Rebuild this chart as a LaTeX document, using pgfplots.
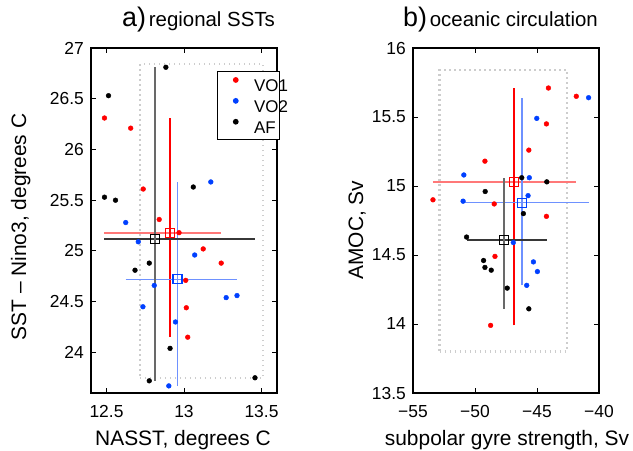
\documentclass[border=0pt]{standalone}
\usepackage{pgfplots}
\pgfplotsset{compat=1.18}
\usepackage{fontspec}
\setmainfont{Liberation Sans}
\definecolor{myred}{RGB}{255,0,0}
\definecolor{myblue}{RGB}{0,64,255}
\definecolor{lred}{RGB}{255,120,120}
\definecolor{lblue}{RGB}{110,145,255}
\definecolor{dgray}{RGB}{55,55,55}
\definecolor{mgray}{RGB}{105,105,105}
\definecolor{boxgray}{RGB}{205,205,205}
\pgfplotsset{
  panel/.style={
    scale only axis, width=186bp, height=345bp,
    axis line style={line width=1.1bp},
    tick style={line width=0.9bp, black},
    major tick length=5bp,
    tick align=inside,
    xtick pos=both, ytick pos=both,
    every tick label/.append style={font=\fontsize{17.5}{20}\selectfont, inner sep=1bp},
    xticklabel style={yshift=-11bp},
    yticklabel style={xshift=-6bp},
    /pgf/number format/assume math mode=true,
    clip=false,
  },
  errl/.style={line width=1.7bp, forget plot},
  sq/.style={only marks, mark=square, mark size=4.5bp, mark options={line width=1.1bp}, forget plot},
  dots/.style={only marks, mark=*, mark size=2.4bp, forget plot},
  dbox/.style={boxgray, line width=2.2bp, dash pattern=on 1.4bp off 3.6bp, forget plot},
}
\begin{document}
\begin{tikzpicture}
\useasboundingbox (0bp,0bp) rectangle (633bp,451bp);
% ---------------- panel a
\begin{axis}[panel, at={(91bp,58bp)}, anchor=south west,
  xmin=12.4, xmax=13.6, ymin=23.6, ymax=27,
  xtick={12.5,13,13.5}, xticklabels={12.5,13,13.5},
  ytick={24,24.5,25,25.5,26,26.5,27},
  yticklabels={24,24.5,25,25.5,26,26.5,27},
  legend image code/.code={\draw[#1] plot coordinates {(0bp,5.5bp)};},
  legend style={at={(axis description cs:0.677,0.933)}, anchor=north west, draw=black, line width=0.9bp,
    fill=white, inner xsep=16bp, inner ysep=6bp, row sep=7bp, column sep=16bp,
    nodes={inner sep=0bp, text height=12bp, text depth=0bp, font=\fontsize{17}{19}\selectfont}},
  legend cell align=left,
]
\addlegendimage{only marks, mark=*, mark size=2.4bp, myred}
\addlegendentry{\makebox[9bp][l]{VO1}}
\addlegendimage{only marks, mark=*, mark size=2.4bp, myblue}
\addlegendentry{\makebox[9bp][l]{VO2}}
\addlegendimage{only marks, mark=*, mark size=2.4bp, black}
\addlegendentry{\makebox[9bp][l]{AF}}
\addplot[dbox] coordinates {(12.716,23.75) (13.511,23.75) (13.511,26.84) (12.716,26.84) (12.716,23.75)};
% error lines
\addplot[errl, lred] coordinates {(12.487,25.18) (13.24,25.18)};
\addplot[errl, myred] coordinates {(12.908,24.15) (12.908,26.31)};
\addplot[errl, lblue] coordinates {(12.624,24.72) (13.342,24.72)};
\addplot[errl, lblue] coordinates {(12.958,23.67) (12.958,25.68)};
\addplot[errl, dgray] coordinates {(12.487,25.12) (13.458,25.12)};
\addplot[errl, mgray] coordinates {(12.812,23.72) (12.812,26.81)};
% means
\addplot[sq, myred] coordinates {(12.908,25.18)};
\addplot[sq, myblue] coordinates {(12.958,24.72)};
\addplot[sq, black] coordinates {(12.812,25.12)};
% dots
\addplot[dots, myred] coordinates {(12.487,26.31) (12.656,26.21) (12.737,25.61) (12.84,25.31) (12.968,25.18) (13.124,25.02) (13.24,24.88) (13.011,24.71) (13.015,24.44) (13.024,24.15)};
\addplot[dots, myblue] coordinates {(13.173,25.68) (12.624,25.28) (12.705,25.09) (13.069,24.96) (12.808,24.66) (13.272,24.54) (13.342,24.56) (12.735,24.45) (12.945,24.30) (12.902,23.67)};
\addplot[dots, black] coordinates {(12.513,26.53) (12.883,26.81) (13.06,25.63) (12.487,25.53) (12.558,25.50) (12.776,24.88) (12.684,24.81) (12.91,24.04) (12.776,23.72) (13.458,23.75)};
\end{axis}
% ---------------- panel b
\begin{axis}[panel, at={(413bp,58bp)}, anchor=south west,
  xmin=-55, xmax=-40, ymin=13.5, ymax=16,
  xtick={-55,-50,-45,-40}, xticklabels={−55,−50,−45,−40},
  ytick={13.5,14,14.5,15,15.5,16},
  yticklabels={13.5,14,14.5,15,15.5,16},
]
\addplot[dbox] coordinates {(-52.86,13.8) (-42.6,13.8) (-42.6,15.84) (-52.86,15.84) (-52.86,13.8)};
\addplot[errl, lred] coordinates {(-53.39,15.03) (-41.83,15.03)};
\addplot[errl, myred] coordinates {(-46.83,13.99) (-46.83,15.71)};
\addplot[errl, lblue] coordinates {(-50.96,14.88) (-40.84,14.88)};
\addplot[errl, lblue] coordinates {(-46.21,14.28) (-46.21,15.64)};
\addplot[errl, dgray] coordinates {(-50.68,14.61) (-44.21,14.61)};
\addplot[errl, mgray] coordinates {(-47.66,14.11) (-47.66,15.06)};
\addplot[sq, myred] coordinates {(-46.83,15.03)};
\addplot[sq, myblue] coordinates {(-46.21,14.88)};
\addplot[sq, black] coordinates {(-47.66,14.61)};
\addplot[dots, myred] coordinates {(-44.08,15.71) (-41.83,15.65) (-44.24,15.45) (-45.66,15.26) (-49.2,15.18) (-53.39,14.90) (-48.45,14.87) (-44.24,14.78) (-48.39,14.49) (-48.74,13.99)};
\addplot[dots, myblue] coordinates {(-40.84,15.64) (-45.02,15.49) (-50.9,15.08) (-45.62,15.06) (-50.96,14.89) (-45.72,14.93) (-46.91,14.59) (-45.29,14.45) (-44.97,14.38) (-45.83,14.28)};
\addplot[dots, black] coordinates {(-46.23,15.06) (-44.21,15.03) (-49.18,14.96) (-46.1,14.80) (-50.68,14.63) (-49.31,14.46) (-49.2,14.41) (-48.69,14.39) (-47.4,14.26) (-45.66,14.11)};
\end{axis}
% ---------------- texts
\node[anchor=base west, inner sep=0] at (122bp,424bp) {{\fontsize{27}{29}\selectfont a)} {\fontsize{20.5}{23}\selectfont regional SSTs}};
\node[anchor=base west, inner sep=0] at (403bp,424bp) {{\fontsize{27}{29}\selectfont b)} {\fontsize{20.5}{23}\selectfont oceanic circulation}};
\node[anchor=base, inner sep=0] at (183bp,6bp) {\fontsize{21}{23}\selectfont NASST, degrees C};
\node[anchor=base, inner sep=0] at (507bp,6bp) {\fontsize{21}{23}\selectfont subpolar gyre strength, Sv};
\node[anchor=base, rotate=90, inner sep=0] at (26bp,224bp) {\fontsize{21}{23}\selectfont SST -- Nino3, degrees C};
\node[anchor=base, rotate=90, inner sep=0] at (363bp,221bp) {\fontsize{21}{23}\selectfont AMOC, Sv};
\end{tikzpicture}
\end{document}
